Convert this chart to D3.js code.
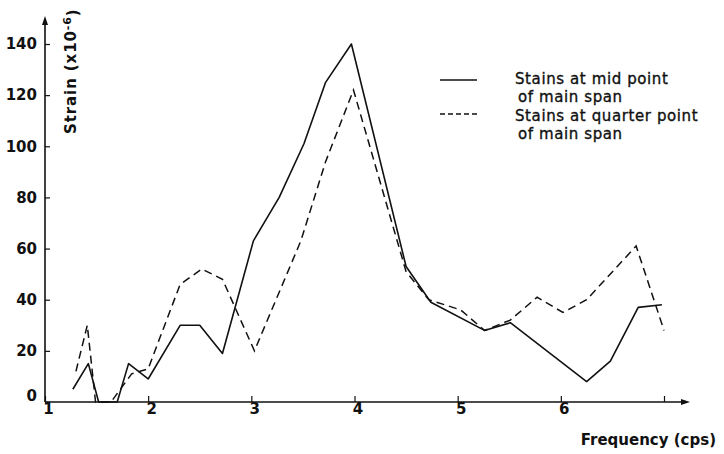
<!DOCTYPE html>
<html>
<head>
  <meta charset="utf-8">
  <title>Strain vs Frequency</title>
  <script src="https://d3js.org/d3.v7.min.js"></script>
  <style>
    body { margin: 0; background: #fff; }
    svg { display: block; }
    .tick text { font-family: "DejaVu Sans", sans-serif; font-size: 15px; font-weight: bold; fill: #111; }
    .lbl { font-family: "DejaVu Sans", sans-serif; font-size: 14px; font-weight: bold; fill: #111; }
    .leg { font-weight: normal; font-size: 15px; letter-spacing: 0.6px; stroke: #111; stroke-width: 0.35px; }
  </style>
</head>
<body>
  <svg></svg>
  <script>
    // values
    const freqMid   = [1.27, 1.42, 1.52, 1.70, 1.81, 2.00, 2.31, 2.50, 2.72, 3.02, 3.27, 3.51, 3.72, 3.97, 4.50, 4.74, 5.26, 5.51, 6.25, 6.48, 6.75, 6.98];
    const strainMid = [5, 15, 0, 0, 15, 9, 30, 30, 19, 63, 80, 101, 125, 140, 53, 39, 28, 31, 8, 16, 37, 38];

    const freqQuarter   = [1.30, 1.41, 1.49, 1.64, 1.84, 2.00, 2.31, 2.52, 2.72, 3.03, 3.48, 3.72, 3.99, 4.50, 4.72, 5.03, 5.26, 5.51, 5.77, 6.02, 6.25, 6.73, 7.00];
    const strainQuarter = [12, 30, 0, 0, 11, 13, 46, 52, 48, 20, 63, 94, 122, 51, 40, 36, 28, 32, 41, 35, 40, 61, 28];

    const xTicks = [1, 2, 3, 4, 5, 6, 7];
    const xTickLabels = ["1", "2", "3", "4", "5", "6", ""];
    const yTicks = [0, 20, 40, 60, 80, 100, 120, 140];

    const width = 724, height = 454;

    const svg = d3.select("svg")
      .attr("width", width)
      .attr("height", height);

    const x = d3.scaleLinear().domain([1, 7]).range([45, 664]);
    const y = d3.scaleLinear().domain([0, 140]).range([402, 44]);

    // y axis, ticks pointing inwards
    svg.append("g")
      .attr("transform", "translate(" + x(1) + ",0)")
      .call(d3.axisLeft(y).tickValues(yTicks).tickSize(-5).tickPadding(8))
      .call(g => g.select(".domain").remove())
      .call(g => g.selectAll(".tick line").attr("stroke", "#111").attr("stroke-width", 1.2))
      .call(g => g.selectAll(".tick text").filter(d => d === 0).attr("dy", "-0.1em"));

    // x axis, ticks pointing up
    svg.append("g")
      .attr("transform", "translate(0," + y(0) + ")")
      .call(d3.axisBottom(x).tickValues(xTicks).tickFormat((d, i) => xTickLabels[i]).tickSize(-6).tickPadding(1))
      .call(g => g.select(".domain").remove())
      .call(g => g.selectAll(".tick line").attr("stroke", "#111").attr("stroke-width", 1.2))
      .call(g => g.selectAll(".tick text").attr("dx", "0.2em"));

    // axis lines with arrow heads
    const axisLines = svg.append("g").attr("stroke", "#111").attr("stroke-width", 1.6).attr("fill", "none");
    axisLines.append("line").attr("x1", x(1)).attr("y1", y(0)).attr("x2", x(1)).attr("y2", 22);
    axisLines.append("line").attr("x1", x(1)).attr("y1", y(0)).attr("x2", 684).attr("y2", y(0));
    svg.append("path").attr("d", "M" + x(1) + ",16 l-3,9 l6,0 z").attr("fill", "#111");
    svg.append("path").attr("d", "M690," + y(0) + " l-9,-3 l0,6 z").attr("fill", "#111");

    // series
    const line = d3.line().x(d => x(d[0])).y(d => y(d[1]));
    const midData = d3.zip(freqMid, strainMid);
    const quarterData = d3.zip(freqQuarter, strainQuarter);

    svg.append("path")
      .datum(midData)
      .attr("d", line)
      .attr("fill", "none")
      .attr("stroke", "#111")
      .attr("stroke-width", 1.6)
      .attr("stroke-linejoin", "round");

    svg.append("path")
      .datum(quarterData)
      .attr("d", line)
      .attr("fill", "none")
      .attr("stroke", "#111")
      .attr("stroke-width", 1.5)
      .attr("stroke-dasharray", "8,5");

    // axis titles
    const yTitle = svg.append("text")
      .attr("class", "lbl")
      .attr("transform", "translate(76,134) rotate(-90)")
      .style("font-size", "15px")
      .style("letter-spacing", "0.9px");
    yTitle.append("tspan").text("Strain  (x10");
    yTitle.append("tspan").attr("dy", "-0.45em").style("font-size", "11px").text("-6");
    yTitle.append("tspan").attr("dy", "0.45em").text(")");

    svg.append("text")
      .attr("class", "lbl")
      .attr("x", 716).attr("y", 445)
      .attr("text-anchor", "end")
      .style("font-size", "15px")
      .text("Frequency  (cps)");

    // legend
    const legend = svg.append("g");
    legend.append("line").attr("x1", 440).attr("x2", 477).attr("y1", 80).attr("y2", 80)
      .attr("stroke", "#111").attr("stroke-width", 1.4);
    legend.append("line").attr("x1", 440).attr("x2", 477).attr("y1", 114).attr("y2", 114)
      .attr("stroke", "#111").attr("stroke-width", 1.4).attr("stroke-dasharray", "5,3");
    const legendText = [
      ["Stains at mid point", 515, 84],
      ["of main span", 518, 102],
      ["Stains at quarter point", 515, 121],
      ["of main span", 518, 139]
    ];
    legend.selectAll("text.leg")
      .data(legendText)
      .enter().append("text")
        .attr("class", "lbl leg")
        .attr("x", d => d[1])
        .attr("y", d => d[2])
        .text(d => d[0]);
  </script>
</body>
</html>
